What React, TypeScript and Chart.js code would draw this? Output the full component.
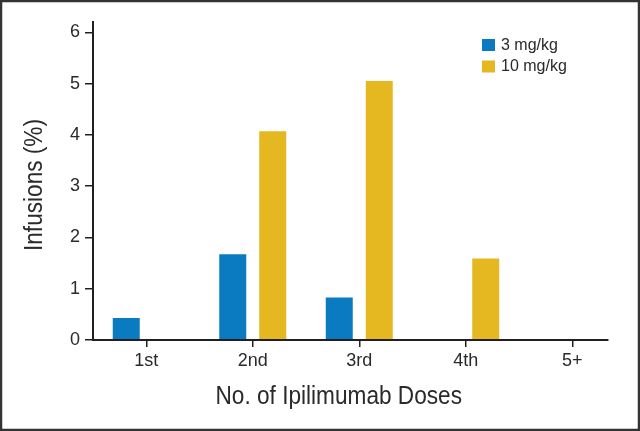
import React, { useEffect, useRef } from "react";
import { Chart, registerables } from "chart.js";

Chart.register(...registerables);

const categories = ["1st", "2nd", "3rd", "4th", "5+"];
const seriesNames = ["3 mg/kg", "10 mg/kg"];
const dose3 = [0.43, 1.67, 0.83, 0, 0];
const dose10 = [0, 4.07, 5.05, 1.59, 0];
const yTicks = [0, 1, 2, 3, 4, 5, 6];
const xTitle = "No. of Ipilimumab Doses";
const yTitle = "Infusions (%)";
const seriesColors = ["#0b7bc1", "#e5b822"];

const axisColor = "#231f20";
const textColor = "#2a2a2a";
const regularFont = "'Liberation Sans', Arial, Helvetica, sans-serif";

// draws a horizontally condensed label (the original uses a condensed face)
function condensedText(ctx: any, text: string, x: number, y: number, rotation: number) {
  ctx.save();
  ctx.translate(x, y);
  ctx.rotate(rotation);
  ctx.scale(0.905, 1);
  ctx.font = `25px ${regularFont}`;
  ctx.fillStyle = textColor;
  ctx.textAlign = "center";
  ctx.textBaseline = "middle";
  ctx.fillText(text, 0, 0);
  ctx.restore();
}

const extrasPlugin = {
  id: "extras",
  afterDraw(chart: any) {
    const { ctx, chartArea, scales } = chart;
    const xs = scales.x;
    ctx.save();
    // x axis line
    const n = categories.length;
    const first = xs.getPixelForValue(0);
    const last = xs.getPixelForValue(n - 1);
    const step = xs.getPixelForValue(1) - first;
    const axisEnd = last + step * 0.34;
    ctx.strokeStyle = axisColor;
    ctx.lineWidth = 2;
    ctx.beginPath();
    ctx.moveTo(chartArea.left - 1, chartArea.bottom);
    ctx.lineTo(axisEnd, chartArea.bottom);
    ctx.stroke();

    // axis titles
    condensedText(ctx, xTitle, (chartArea.left + axisEnd) / 2 - 12, 397, 0);
    condensedText(ctx, yTitle, 35, (chartArea.top + chartArea.bottom) / 2 + 4, -Math.PI / 2);

    // legend
    ctx.font = `16px ${regularFont}`;
    ctx.textAlign = "left";
    ctx.textBaseline = "middle";
    chart.data.datasets.forEach((ds: any, i: number) => {
      const y = 39 + i * 21.5;
      ctx.fillStyle = ds.backgroundColor;
      ctx.fillRect(482, y, 13, 12);
      ctx.fillStyle = textColor;
      ctx.fillText(ds.label, 501, y + 6.5);
    });

    // frame
    ctx.strokeStyle = "#333333";
    ctx.lineWidth = 2.5;
    ctx.strokeRect(1, 1, chart.width - 2, chart.height - 2);
    ctx.restore();
  },
};

export default function App() {
  const ref = useRef<HTMLCanvasElement | null>(null);

  useEffect(() => {
    if (!ref.current) return;
    const chart = new Chart(ref.current, {
      type: "bar",
      data: {
        labels: categories,
        datasets: [
          {
            label: seriesNames[0],
            data: dose3,
            backgroundColor: seriesColors[0],
            barPercentage: 0.675,
            categoryPercentage: 0.751,
          },
          {
            label: seriesNames[1],
            data: dose10,
            backgroundColor: seriesColors[1],
            barPercentage: 0.675,
            categoryPercentage: 0.751,
          },
        ],
      },
      options: {
        animation: false,
        responsive: false,
        devicePixelRatio: 1,
        layout: { padding: { top: 22, right: 14.5, left: 0, bottom: 0 } },
        plugins: {
          legend: { display: false },
          tooltip: { enabled: false },
          title: { display: false },
        },
        scales: {
          x: {
            offset: true,
            afterFit: (s: any) => {
              s.height = 91;
            },
            grid: {
              display: true,
              offset: false,
              drawOnChartArea: false,
              drawTicks: true,
              tickLength: 7,
              color: axisColor,
              lineWidth: 1.5,
            },
            border: { display: false },
            ticks: {
              color: textColor,
              font: { family: regularFont, size: 18 },
              padding: 3,
              maxRotation: 0,
            },
          },
          y: {
            min: 0,
            max: 6.2,
            afterBuildTicks: (s: any) => {
              s.ticks = yTicks.map((value) => ({ value }));
            },
            afterFit: (s: any) => {
              s.width = 93;
            },
            grid: {
              display: true,
              drawOnChartArea: false,
              drawTicks: true,
              tickLength: 8,
              color: axisColor,
              lineWidth: 1.5,
            },
            border: { display: true, color: axisColor, width: 2 },
            ticks: {
              color: textColor,
              font: { family: regularFont, size: 18 },
              padding: 5,
            },
          },
        },
      },
      plugins: [extrasPlugin],
    });
    return () => chart.destroy();
  }, []);

  return (
    <div style={{ position: "fixed", left: 0, top: 0, width: 640, height: 431, background: "#fff" }}>
      <canvas ref={ref} width={640} height={431} style={{ width: 640, height: 431, display: "block" }} />
    </div>
  );
}
